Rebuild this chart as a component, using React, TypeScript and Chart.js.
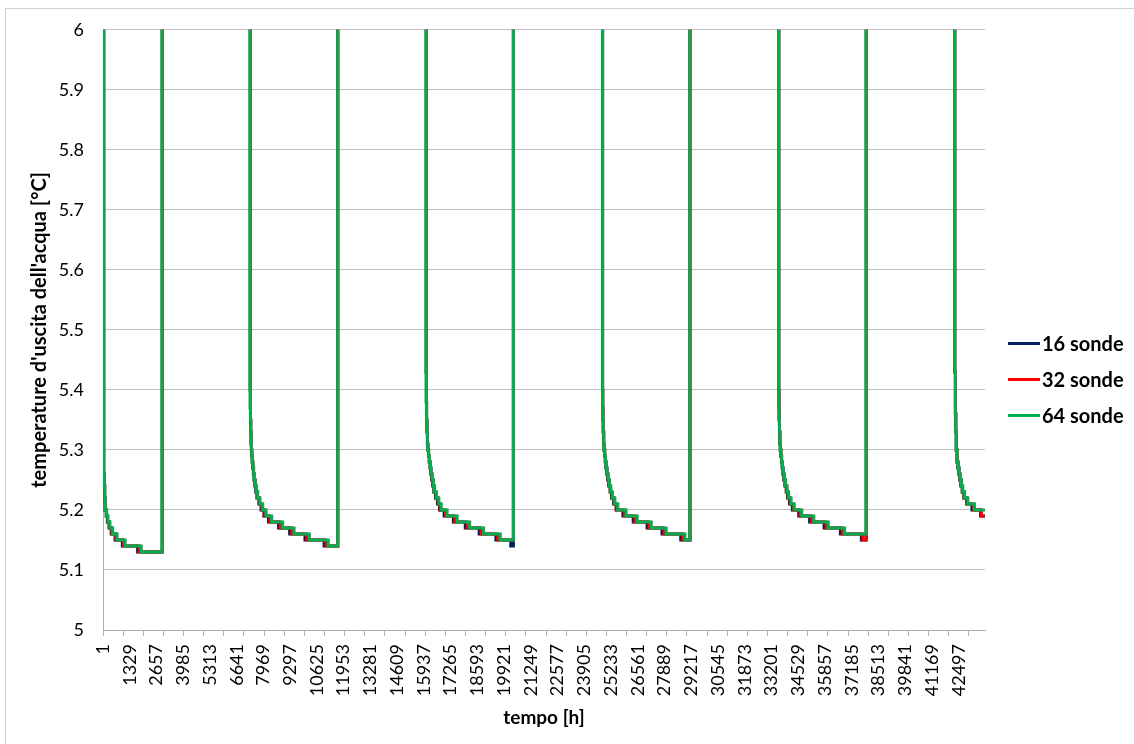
import React, { useEffect, useRef } from 'react';
import { Chart, registerables } from 'chart.js';

Chart.register(...registerables);

const seriesNames = ['16 sonde', '32 sonde', '64 sonde'];
const seriesColors = ['#002060', '#FF0000', '#00B050'];

const xTickLabels = [
  1, 1329, 2657, 3985, 5313, 6641, 7969, 9297, 10625, 11953, 13281, 14609, 15937, 17265, 18593, 19921,
  21249, 22577, 23905, 25233, 26561, 27889, 29217, 30545, 31873, 33201, 34529, 35857, 37185, 38513,
  39841, 41169, 42497,
];
const xMin = 1;
const xMax = 43800;
const tickMarkStep = 1000;
const yMin = 5;
const yMax = 6;
const yStep = 0.1;

// 16 sonde
const hours16 = [
  1, 36, 60, 82, 103, 160, 215, 300, 410, 600, 960, 1720, 2940,
  7310, 7318, 7326, 7336, 7354, 7368, 7386, 7408, 7435, 7466, 7500, 7542, 7590, 7645, 7740, 7850, 7990, 8220, 8720, 9270, 10030, 10980, 11660,
  16050, 16058, 16070, 16086, 16109, 16132, 16164, 16200, 16240, 16276, 16322, 16376, 16430, 16510, 16610, 16710, 16940, 17400, 17990, 18680, 19510, 20250, 20380,
  24810, 24818, 24828, 24841, 24862, 24882, 24910, 24941, 24976, 25016, 25062, 25116, 25180, 25250, 25360, 25480, 25820, 26330, 27020, 27760, 28690, 29150,
  33560, 33568, 33578, 33591, 33612, 33632, 33660, 33691, 33727, 33766, 33810, 33864, 33926, 33998, 34090, 34230, 34550, 35090, 35810, 36620, 37660, 37900,
  42300, 42330, 42350, 42371, 42410, 42455, 42500, 42546, 42600, 42664, 42746, 42890, 43150, 43580, 43800,
];
const temps16 = [
  6.0, 5.26, 5.24, 5.22, 5.20, 5.19, 5.18, 5.17, 5.16, 5.15, 5.14, 5.13, 6.5,
  5.40, 5.37, 5.35, 5.33, 5.31, 5.30, 5.29, 5.28, 5.27, 5.26, 5.25, 5.24, 5.23, 5.22, 5.21, 5.20, 5.19, 5.18, 5.17, 5.16, 5.15, 5.14, 6.5,
  5.43, 5.38, 5.35, 5.33, 5.31, 5.30, 5.29, 5.28, 5.27, 5.26, 5.25, 5.24, 5.23, 5.22, 5.21, 5.20, 5.19, 5.18, 5.17, 5.16, 5.15, 5.14, 6.5,
  5.40, 5.37, 5.35, 5.33, 5.31, 5.30, 5.29, 5.28, 5.27, 5.26, 5.25, 5.24, 5.23, 5.22, 5.21, 5.20, 5.19, 5.18, 5.17, 5.16, 5.15, 6.5,
  5.40, 5.37, 5.35, 5.33, 5.31, 5.30, 5.29, 5.28, 5.27, 5.26, 5.25, 5.24, 5.23, 5.22, 5.21, 5.20, 5.19, 5.18, 5.17, 5.16, 5.15, 6.5,
  5.43, 5.36, 5.33, 5.30, 5.28, 5.27, 5.26, 5.25, 5.24, 5.23, 5.22, 5.21, 5.20, 5.19, 5.19,
];

// 32 sonde
const hours32 = [
  1, 38, 62, 86, 108, 170, 228, 320, 440, 640, 1020, 1800, 2940,
  7310, 7318, 7326, 7338, 7357, 7371, 7391, 7414, 7442, 7475, 7511, 7555, 7606, 7665, 7770, 7890, 8040, 8290, 8810, 9370, 10130, 11080, 11660,
  16050, 16058, 16070, 16088, 16112, 16136, 16170, 16208, 16250, 16288, 16336, 16392, 16450, 16535, 16645, 16750, 17010, 17480, 18090, 18780, 19610, 20380,
  24810, 24818, 24828, 24843, 24865, 24886, 24915, 24948, 24985, 25028, 25076, 25133, 25200, 25275, 25390, 25520, 25900, 26420, 27120, 27860, 28790, 29150,
  33560, 33568, 33578, 33593, 33615, 33636, 33665, 33698, 33736, 33778, 33825, 33882, 33948, 34024, 34130, 34280, 34620, 35190, 35910, 36720, 37740, 37900,
  42300, 42330, 42350, 42373, 42415, 42462, 42510, 42558, 42615, 42682, 42768, 42920, 43230, 43620, 43800,
];
const temps32 = [
  6.0, 5.26, 5.24, 5.22, 5.20, 5.19, 5.18, 5.17, 5.16, 5.15, 5.14, 5.13, 6.5,
  5.40, 5.37, 5.35, 5.33, 5.31, 5.30, 5.29, 5.28, 5.27, 5.26, 5.25, 5.24, 5.23, 5.22, 5.21, 5.20, 5.19, 5.18, 5.17, 5.16, 5.15, 5.14, 6.5,
  5.43, 5.38, 5.35, 5.33, 5.31, 5.30, 5.29, 5.28, 5.27, 5.26, 5.25, 5.24, 5.23, 5.22, 5.21, 5.20, 5.19, 5.18, 5.17, 5.16, 5.15, 6.5,
  5.40, 5.37, 5.35, 5.33, 5.31, 5.30, 5.29, 5.28, 5.27, 5.26, 5.25, 5.24, 5.23, 5.22, 5.21, 5.20, 5.19, 5.18, 5.17, 5.16, 5.15, 6.5,
  5.40, 5.37, 5.35, 5.33, 5.31, 5.30, 5.29, 5.28, 5.27, 5.26, 5.25, 5.24, 5.23, 5.22, 5.21, 5.20, 5.19, 5.18, 5.17, 5.16, 5.15, 6.5,
  5.43, 5.36, 5.33, 5.30, 5.28, 5.27, 5.26, 5.25, 5.24, 5.23, 5.22, 5.21, 5.20, 5.19, 5.19,
];

// 64 sonde
const hours64 = [
  1, 40, 65, 90, 115, 183, 248, 347, 480, 700, 1100, 1900, 2940,
  7310, 7318, 7326, 7340, 7360, 7375, 7396, 7420, 7450, 7485, 7523, 7570, 7625, 7687, 7800, 7934, 8103, 8380, 8925, 9490, 10250, 11190, 11660,
  16050, 16058, 16070, 16090, 16115, 16140, 16175, 16215, 16260, 16300, 16350, 16410, 16470, 16560, 16680, 16800, 17090, 17590, 18210, 18900, 19730, 20380,
  24810, 24818, 24828, 24845, 24868, 24890, 24920, 24955, 24995, 25040, 25090, 25150, 25220, 25300, 25420, 25570, 25980, 26530, 27230, 27970, 28900, 29150,
  33560, 33568, 33578, 33595, 33618, 33640, 33670, 33705, 33745, 33790, 33840, 33900, 33970, 34050, 34170, 34330, 34700, 35300, 36020, 36830, 37900,
  42300, 42330, 42350, 42375, 42420, 42470, 42520, 42570, 42630, 42700, 42790, 42950, 43280, 43800,
];
const temps64 = [
  6.0, 5.26, 5.24, 5.22, 5.20, 5.19, 5.18, 5.17, 5.16, 5.15, 5.14, 5.13, 6.5,
  5.40, 5.37, 5.35, 5.33, 5.31, 5.30, 5.29, 5.28, 5.27, 5.26, 5.25, 5.24, 5.23, 5.22, 5.21, 5.20, 5.19, 5.18, 5.17, 5.16, 5.15, 5.14, 6.5,
  5.43, 5.38, 5.35, 5.33, 5.31, 5.30, 5.29, 5.28, 5.27, 5.26, 5.25, 5.24, 5.23, 5.22, 5.21, 5.20, 5.19, 5.18, 5.17, 5.16, 5.15, 6.5,
  5.40, 5.37, 5.35, 5.33, 5.31, 5.30, 5.29, 5.28, 5.27, 5.26, 5.25, 5.24, 5.23, 5.22, 5.21, 5.20, 5.19, 5.18, 5.17, 5.16, 5.15, 6.5,
  5.40, 5.37, 5.35, 5.33, 5.31, 5.30, 5.29, 5.28, 5.27, 5.26, 5.25, 5.24, 5.23, 5.22, 5.21, 5.20, 5.19, 5.18, 5.17, 5.16, 6.5,
  5.43, 5.36, 5.33, 5.30, 5.28, 5.27, 5.26, 5.25, 5.24, 5.23, 5.22, 5.21, 5.20, 5.20,
];

const seriesHours = [hours16, hours32, hours64];
const seriesTemps = [temps16, temps32, temps64];

const FONT = 'Lato, "Open Sans", sans-serif';
const W = 1134;
const H = 744;

const labelSet = new Set(xTickLabels);
const markSet = new Set<number>();
for (let v = xMin; v <= xMax; v += tickMarkStep) markSet.add(v);
const allXTicks = Array.from(new Set([...xTickLabels, ...markSet])).sort((a, b) => a - b);

const framePlugin = {
  id: 'frameAndLegend',
  beforeDraw(chart: any) {
    const ctx = chart.ctx;
    ctx.save();
    ctx.fillStyle = '#ffffff';
    ctx.fillRect(0, 0, chart.width, chart.height);
    ctx.strokeStyle = '#d0d0d0';
    ctx.lineWidth = 1;
    ctx.beginPath();
    ctx.moveTo(5.5, H);
    ctx.lineTo(5.5, 8.5);
    ctx.lineTo(W, 8.5);
    ctx.stroke();
    ctx.restore();
  },
  afterDraw(chart: any) {
    const ctx = chart.ctx;
    ctx.save();
    ctx.font = `bold 20px ${FONT}`;
    ctx.textBaseline = 'middle';
    ctx.textAlign = 'left';
    chart.data.datasets.forEach((ds: any, i: number) => {
      const y = 343.5 + 36 * i;
      ctx.strokeStyle = ds.borderColor;
      ctx.lineWidth = 3;
      ctx.beginPath();
      ctx.moveTo(1008, y);
      ctx.lineTo(1040, y);
      ctx.stroke();
      ctx.fillStyle = '#000000';
      ctx.fillText(ds.label, 1042, y + 1);
    });
    ctx.restore();
  },
};

export default function App() {
  const ref = useRef<HTMLCanvasElement | null>(null);
  useEffect(() => {
    if (!ref.current) return;
    const datasets = seriesNames.map((name, i) => ({
      label: name,
      data: seriesHours[i].map((h, k) => ({ x: h, y: seriesTemps[i][k] })),
      borderColor: seriesColors[i],
      backgroundColor: seriesColors[i],
      borderWidth: 3,
      pointRadius: 0,
      stepped: true,
      fill: false,
      clip: 0,
      order: 3 - i,
    }));
    const chart = new Chart(ref.current, {
      type: 'line',
      data: { datasets },
      plugins: [framePlugin],
      options: {
        animation: false,
        responsive: false,
        devicePixelRatio: 1,
        layout: { padding: { top: 29, right: W - 985, bottom: 0, left: 0 } },
        plugins: { legend: { display: false }, tooltip: { enabled: false } },
        scales: {
          x: {
            type: 'linear',
            min: xMin,
            max: xMax,
            afterBuildTicks: (axis: any) => {
              axis.ticks = allXTicks.map((v) => ({ value: v }));
            },
            afterFit: (s: any) => {
              s.height = H - 630;
            },
            ticks: {
              autoSkip: false,
              minRotation: 90,
              maxRotation: 90,
              padding: 8,
              color: '#000000',
              font: { family: FONT, size: 18 },
              callback: (v: any) => (labelSet.has(v) ? String(v) : ''),
            },
            grid: {
              drawOnChartArea: false,
              drawTicks: true,
              tickLength: 6,
              tickColor: (c: any) => (c.tick && markSet.has(c.tick.value) ? '#b0b0b0' : 'rgba(0,0,0,0)'),
            },
            border: { display: true, color: '#b0b0b0', width: 1 },
            title: {
              display: true,
              text: 'tempo [h]',
              color: '#000000',
              font: { family: FONT, size: 19, weight: 'bold' },
              padding: { top: 0, bottom: 15 },
            },
          },
          y: {
            type: 'linear',
            min: yMin,
            max: yMax,
            afterFit: (s: any) => {
              s.width = 103;
            },
            ticks: {
              stepSize: yStep,
              padding: 19,
              color: '#000000',
              font: { family: FONT, size: 18 },
              callback: (v: any) => String(Number(Number(v).toFixed(1))),
            },
            grid: { color: '#c0c0c0', drawTicks: false },
            border: { display: true, color: '#b0b0b0', width: 1 },
            title: {
              display: true,
              text: "temperature d'uscita dell'acqua [°C]",
              color: '#000000',
              font: { family: FONT, size: 20, weight: 'bold' },
              padding: { top: 28, bottom: 0 },
            },
          },
        },
      } as any,
    });
    return () => chart.destroy();
  }, []);
  return (
    <div style={{ position: 'absolute', left: 0, top: 0, width: W, height: H }}>
      <canvas ref={ref} width={W} height={H} style={{ display: 'block', width: W, height: H }} />
    </div>
  );
}
